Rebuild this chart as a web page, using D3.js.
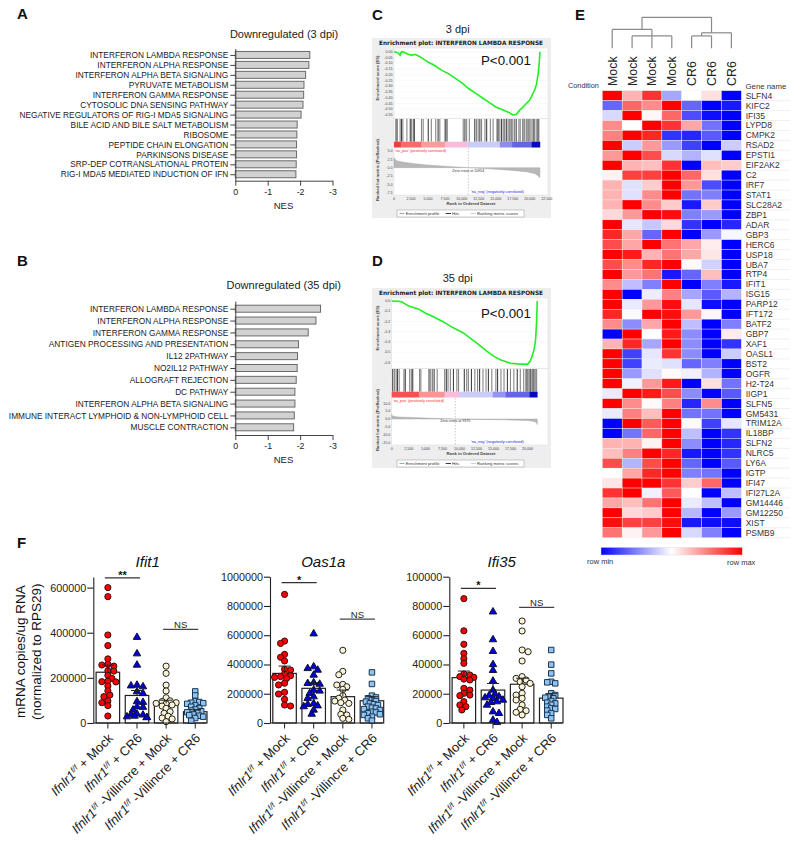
<!DOCTYPE html>
<html><head><meta charset="utf-8">
<script src="https://cdn.jsdelivr.net/npm/d3@7"></script>
<style>
html,body{margin:0;padding:0;background:#fff}
svg{display:block}
text{font-family:"Liberation Sans",Arial,sans-serif;fill:#222}
</style></head><body><div id="c"></div>
<script>
// ---------- Panels A, B ----------
const pathwaysA=["INTERFERON LAMBDA RESPONSE","INTERFERON ALPHA RESPONSE","INTERFERON ALPHA BETA SIGNALING","PYRUVATE METABOLISM","INTERFERON GAMMA RESPONSE","CYTOSOLIC DNA SENSING PATHWAY","NEGATIVE REGULATORS OF RIG-I MDA5 SIGNALING","BILE ACID AND BILE SALT METABOLISM","RIBOSOME","PEPTIDE CHAIN ELONGATION","PARKINSONS DISEASE","SRP-DEP COTRANSLATIONAL PROTEIN","RIG-I MDA5 MEDIATED INDUCTION OF IFN"];
const nesA=[-2.30,-2.27,-2.17,-2.12,-2.11,-2.09,-2.03,-1.91,-1.90,-1.89,-1.89,-1.88,-1.87];
const pathwaysB=["INTERFERON LAMBDA RESPONSE","INTERFERON ALPHA RESPONSE","INTERFERON GAMMA RESPONSE","ANTIGEN PROCESSING AND PRESENTATION","IL12 2PATHWAY","NO2IL12 PATHWAY","ALLOGRAFT REJECTION","DC PATHWAY","INTERFERON ALPHA BETA SIGNALING","IMMUNE INTERACT LYMPHOID & NON-LYMPHOID CELL","MUSCLE CONTRACTION"];
const nesB=[-2.63,-2.49,-2.25,-1.95,-1.92,-1.91,-1.88,-1.84,-1.84,-1.82,-1.80];
const nesTicks=[0,-1,-2,-3];

// ---------- Panels C, D ----------
const esRankC=[0,300,600,900,1100,1500,2000,2500,3200,4000,5000,6000,7000,8000,9000,10000,11000,12000,13000,14000,15000,16000,17000,17500,18000,18500,19000,20000,20750,21000,21250,21400,21500];
const esValC=[0,-0.005,-0.01,-0.03,0,-0.005,-0.02,-0.03,-0.025,-0.05,-0.09,-0.12,-0.16,-0.19,-0.23,-0.27,-0.32,-0.36,-0.40,-0.44,-0.48,-0.505,-0.53,-0.55,-0.545,-0.51,-0.48,-0.42,-0.33,-0.28,-0.19,-0.1,0];
const esRankD=[0,1000,1500,2500,4000,5000,6000,7500,9000,10500,12500,14000,15000,16000,17500,18500,20000,20400,20700,21000,21200,21350,21450];
const esValD=[0,-0.002,-0.01,-0.05,-0.08,-0.12,-0.15,-0.2,-0.26,-0.31,-0.41,-0.49,-0.54,-0.575,-0.61,-0.615,-0.62,-0.59,-0.54,-0.47,-0.38,-0.2,0];
const hitsC=[300,500,900,1100,1300,1900,2400,2600,2850,3000,4050,4300,5050,5500,6150,6500,6750,7500,7650,7850,10200,10450,10700,11100,11900,12150,12400,12650,12900,13400,13650,14200,14600,15200,15400,15600,15850,16100,16300,16550,16800,17000,17250,17500,17750,18000,18400,18600,19000,19250,19500,19750,20000,20200,20500,20700,20950,21200,21350];
const hitsD=[150,400,650,850,1100,1800,2000,2650,2900,3100,4100,4300,5500,5750,6000,6250,6700,7800,8050,8300,8650,9100,9600,9850,10700,11050,11300,11750,12250,12650,12950,13450,13900,14250,14750,15350,15600,16100,16550,17050,17500,18000,18500,18950,19450,19800,20000,20200,20400,20550,20750,20950,21150,21350];
const bandEdgesC=[0,1000,4050,7500,10800,15600,17400,20300,21500];
const bandColorsC=["#f43a3a","#f76a6a","#fb9c9c","#fbbcdc","#ccccf8","#8c8cee","#6464e6","#0808c0"];
const bandEdgesD=[0,4000,7800,10000,14900,16800,20300,21450];
const bandColorsD=["#f85050","#fb9494","#fbbcdc","#ccccf8","#9494f4","#6464e6","#0808c0"];
const metricRankC=[0,100,500,1500,3000,5000,7500,10954,14000,17000,19500,20800,21300,21500];
const metricValC=[3,2.6,2.0,1.6,1.2,0.8,0.45,0,-0.35,-0.75,-1.2,-1.8,-2.6,-3];
const metricRankD=[0,100,1000,3000,6000,9370,13000,17000,20000,21000,21300,21450];
const metricValD=[3,2,1.3,1.0,0.5,0,-0.25,-0.5,-0.9,-1.5,-2.2,-3.5];
const rankTicksC=[0,2500,5000,7500,10000,12500,15000,17500,20000,22500];
const rankTicksD=[0,2500,5000,7500,10000,12500,15000,17500,20000];
const esTicksC=[0,-.05,-.1,-.15,-.2,-.25,-.3,-.35,-.4,-.45,-.5,-.55];
const esTicksD=[0,-.1,-.2,-.3,-.4,-.5,-.6];
const metricTicksC=[5,2.5,0,-2.5,-5,-7.5];
const metricTicksD=[10,5,0,-5,-10,-15];

// ---------- Panel E ----------
const genes=["SLFN4","KIFC2","IFI35","LYPD8","CMPK2","RSAD2","EPSTI1","EIF2AK2","C2","IRF7","STAT1","SLC28A2","ZBP1","ADAR","GBP3","HERC6","USP18","UBA7","RTP4","IFIT1","ISG15","PARP12","IFT172","BATF2","GBP7","XAF1","OASL1","BST2","OGFR","H2-T24","IIGP1","SLFN5","GM5431","TRIM12A","IL18BP","SLFN2","NLRC5","LY6A","IGTP","IFI47","IFI27L2A","GM14446","GM12250","XIST","PSMB9"];
const conditions=["Mock","Mock","Mock","Mock","CR6","CR6","CR6"];
const matrix=[
[1,.3,.8,-.35,0,.12,-1],[-.6,.6,.45,1,-.6,-1,-.9],[-.15,1,.03,.6,-.7,-.95,-1],[.45,0,1,.8,.35,-.55,-1],[.5,1,.85,-.8,-.85,-.65,-1],
[1,-.2,.4,-.4,-.75,-1,-.2],[.4,1,.7,-.15,-.3,-.12,-1],[1,.3,.25,.8,-1,.25,.2],[.05,.75,.75,1,.6,.12,-1],[.3,-.12,.2,1,.4,-.7,-1],
[.3,-.12,.45,1,-.55,-.5,-1],[.3,1,.45,.2,-.9,.2,-1],[.15,.4,1,.95,-.5,-.4,-1],[1,-.1,-.22,.15,-.8,-1,-.85],[.85,.35,-.6,1,-1,-.4,-.03],
[.7,.35,1,.55,.35,.07,-1],[1,.9,.3,.55,.35,.1,-1],[.7,.45,.85,1,.02,-.18,-1],[1,.4,.55,-.9,-.6,.25,-1],[.45,-.25,-.5,1,-1,-.5,-.9],
[1,-1,-.07,.5,-.35,-.65,-.3],[1,-.08,.4,.95,-.1,-.95,-1],[.85,-.02,1,.95,.4,.03,-1],[.45,-.45,.35,1,-.25,-1,-.5],[-1,1,0,.9,-.45,-1,.08],
[.3,.85,-.35,1,-.45,-1,-.8],[1,-.75,-.1,.8,-.45,-1,-.2],[1,-.75,-.08,-.12,-.6,-.5,-1],[1,-.4,-.12,.02,-.06,-.3,-1],[1,-.05,.4,.9,-1,.12,-.55],
[-.08,1,.9,.7,-.45,-1,-.65],[1,.45,.02,.5,-.85,.45,-1],[-.08,.5,.25,1,-.55,-.55,-1],[-1,1,.65,1,.02,-.75,-.1],[-1,-.55,.6,1,-.25,-1,-.8],
[.3,.3,.05,1,-.45,-1,-.85],[.25,.5,1,.85,-.9,-1,-.8],[.7,-.3,.7,1,-.6,-1,-.65],[0,.35,.85,1,-.5,-.55,-1],[.1,1,1,.8,.2,.6,-1],
[.8,1,-.06,.65,0,-1,-.25],[.35,.25,.55,1,-.08,-.25,-1],[1,.15,.2,1,-.28,-1,-.4],[.95,.75,.75,.95,-.9,-.95,-.95],[.55,.05,.4,1,-.15,-.5,-1]];
// column dendrogram: merge distance per node, leaves are column indices
const dendrogram={d:1,children:[
 {d:.61,children:[{col:0},{d:.4,children:[{col:1},{col:2},{col:3}]}]},
 {d:.5,children:[{d:.4,children:[{col:4},{col:5}]},{col:6}]}
]};

// ---------- Panel F ----------
const fGroups=["Mock","CR6"];
const fGenotypes=["flox","villin"];
const geneNames=["Ifit1","Oas1a","Ifi35"];
const ifit1Means=[225000,122000,87000,50000];
const ifit1Sem=[32000,22000,14000,9000];
const ifit1G1=[600000,560000,390000,343000,284000,260000,257000,252000,232000,230000,211000,198000,185000,183000,182000,164000,143000,124000,117000,98000,90000,77000,31000];
const ifit1G2=[380000,307000,257000,168000,165000,161000,139000,131000,95000,92000,72000,70000,58000,40000,38000,36000,31000,28000,25000,24000];
const ifit1G3=[252000,220000,168000,142000,112000,98000,95000,90000,87000,85000,80000,75000,65000,50000,43000,30000,22000,18000,6000];
const ifit1G4=[140000,122000,97000,93000,90000,88000,85000,78000,72000,66000,60000,55000,52000,48000,45000,38000,35000,32000,28000,22000,10000];
const oas1aMeans=[339000,237000,180000,152000];
const oas1aSem=[50000,39000,45000,28000];
const oas1aG1=[879000,560000,544000,469000,449000,424000,367000,362000,335000,323000,317000,312000,305000,272000,260000,210000,198000,162000,123000,116000];
const oas1aG2=[610000,385000,373000,362000,328000,276000,271000,266000,225000,219000,203000,180000,169000,134000,128000,118000,112000,89000,61000];
const oas1aG3=[497000,353000,330000,264000,260000,248000,230000,187000,169000,157000,150000,139000,134000,89000,59000,55000,32000,25000];
const oas1aG4=[346000,267000,187000,175000,169000,157000,150000,146000,134000,128000,123000,112000,105000,100000,95000,89000,77000,72000,66000,60000,55000,43000,32000,16000];
const ifi35Means=[31000,22500,26500,17000];
const ifi35Sem=[4500,4500,4100,3000];
const ifi35G1=[85000,63000,53800,47600,44000,40800,33500,32800,31700,31200,30000,29400,23700,22500,20300,19100,18700,14600,12300,11200,8900];
const ifi35G2=[76000,57000,49000,40000,36000,28700,22500,19800,18700,18000,17300,16900,15700,14600,14100,12300,7700,6600,2000,500];
const ifi35G3=[69700,62900,49900,48700,42400,31700,30500,29400,28200,27100,24800,20300,19100,16900,15700,12300,9300,8400,7300,5500];
const ifi35G4=[49900,39900,33900,28200,27800,27100,20300,19100,18000,17300,16900,15000,13900,13400,12500,11200,10000,9600,8500,6600,5500,3200];
const ifit1Ticks=[0,200000,400000,600000];
const bigTicks=[0,200000,400000,600000,800000,1000000];
const ifi35Ticks=[0,20000,40000,60000,80000,100000];

const svg=d3.select("#c").append("svg").attr("width",800).attr("height",844).attr("viewBox","0 0 800 844");
const txt=(g,x,y,s,size,o={})=>{const t=g.append("text").attr("x",x).attr("y",y).attr("font-size",size).attr("text-anchor",o.anchor||"start").text(s);
  if(o.bold)t.attr("font-weight","bold");if(o.italic)t.attr("font-style","italic");if(o.fill)t.style("fill",o.fill);
  if(o.rotate!=null)t.attr("transform",`rotate(${o.rotate} ${x} ${y})`);if(o.family)t.style("font-family",o.family);return t;};

[["A",17,19],["B",17,266],["C",372,20],["D",372,266],["E",575,20],["F",17,548]].forEach(([s,x,y])=>txt(svg,x,y,s,15,{bold:true,fill:"#111"}));

// ---------- NES bars ----------
function nesChart(names,vals,title,tx,ty,top,bottom,xlabelY){
  const g=svg.append("g");
  const x=d3.scaleLinear().domain([0,-3]).range([235.3,332.5]);
  const y=d3.scalePoint().domain(names).range([top,bottom]).padding(.65);
  const h=7;
  g.selectAll("rect").data(names).join("rect")
    .attr("x",x(0)).attr("y",d=>y(d)-h/2).attr("height",h)
    .attr("width",(d,i)=>x(vals[i])-x(0)).attr("fill","#d2d2d2").attr("stroke","#6a6a6a").attr("stroke-width",1);
  const ay=g.append("g").attr("transform",`translate(${x(0)},0)`).call(d3.axisLeft(y).tickSize(5).tickPadding(2).tickSizeOuter(0));
  ay.selectAll("text").attr("font-size",8.3).style("font-family",'"Liberation Sans"');
  const ax=g.append("g").attr("transform",`translate(0,${bottom})`).call(d3.axisBottom(x).tickValues(nesTicks).tickFormat(d=>d===0?"0":d3.format("d")(d).replace("\u2212","-")).tickSize(5).tickPadding(3).tickSizeOuter(0));
  ax.selectAll("text").attr("font-size",8.8).style("font-family",'"Liberation Sans"');
  g.selectAll(".domain,.tick line").attr("stroke","#444");
  txt(g,tx,ty,title,11,{anchor:"middle"});
  txt(g,283.5,xlabelY,"NES",9.5,{anchor:"middle"});
}
nesChart(pathwaysA,nesA,"Downregulated (3 dpi)",284,38,48.5,180.7,208.5);
nesChart(pathwaysB,nesB,"Downregulated (35 dpi)",283.7,289,301,435,463);

// ---------- GSEA ----------
function gsea(c){
  const g=svg.append("g").attr("transform",`translate(0,${c.dy})`);
  txt(g,457.7,c.titleY,c.title,11,{anchor:"middle"});
  g.append("rect").attr("x",372).attr("y",38).attr("width",179).attr("height",180).attr("fill","#eeeeee");
  const head=txt(g,461,45,"Enrichment plot: INTERFERON LAMBDA RESPONSE",6,{anchor:"middle",bold:true,family:'"DejaVu Sans"'});
  head.attr("textLength",164).attr("lengthAdjust","spacingAndGlyphs");
  const x=d3.scaleLinear().domain([0,22500]).range([c.x0,c.x0+152.7]);
  const R=548;
  g.append("rect").attr("x",c.x0).attr("y",48).attr("width",R-c.x0).attr("height",147).attr("fill","#fff").attr("stroke","#ddd").attr("stroke-width",.5);
  const yE=d3.scaleLinear().domain(c.esDomain).range(c.esRange);
  g.append("g").selectAll("line").data(c.esTicks).join("line").attr("x1",c.x0).attr("x2",R).attr("y1",d=>yE(d)).attr("y2",d=>yE(d)).attr("stroke","#f2f2f2").attr("stroke-width",.5);
  g.append("path").datum(c.esRank.map((r,i)=>[r,c.esVal[i]])).attr("fill","none").attr("stroke","#22ee22").attr("stroke-width",1.6)
    .attr("d",d3.line().x(d=>x(d[0])).y(d=>yE(d[1])));
  txt(g,481,c.pY,"P<0.001",13.3,{fill:"#111"});
  g.append("g").selectAll("line").data(c.hits).join("line").attr("x1",d=>x(d)).attr("x2",d=>x(d)).attr("y1",119).attr("y2",141.7)
    .attr("stroke","#222").attr("stroke-width",1.1).attr("stroke-opacity",(d,i)=>i%3===0?.85:.55);
  g.append("line").attr("x1",c.x0).attr("x2",R).attr("y1",118.5).attr("y2",118.5).attr("stroke","#ccc").attr("stroke-width",.5);
  g.append("g").selectAll("rect").data(c.bandColors).join("rect").attr("x",(d,i)=>x(c.bandEdges[i])).attr("width",(d,i)=>x(c.bandEdges[i+1])-x(c.bandEdges[i])+.3)
    .attr("y",141.7).attr("height",5.8).attr("fill",d=>d);
  const yM=d3.scaleLinear().domain(c.mDomain).range(c.mRange);
  g.append("path").datum(c.mRank.map((r,i)=>[r,c.mVal[i]])).attr("fill","#b8b8b8").attr("stroke","#a0a0a0").attr("stroke-width",.4)
    .attr("d",d3.area().x(d=>x(d[0])).y0(yM(0)).y1(d=>yM(d[1])));
  g.append("line").attr("x1",x(c.cross)).attr("x2",x(c.cross)).attr("y1",148).attr("y2",195).attr("stroke","#999").attr("stroke-width",.5).attr("stroke-dasharray","1.5,1.5");
  const fmt=d3.format(c.esFmt);
  const tick=(v,px,fmtv)=>txt(g,c.x0-1.5,px+1.2,fmtv(v),3.6,{anchor:"end",fill:"#444"});
  c.esTicks.forEach(v=>tick(v,yE(v),d=>fmt(d).replace("\u2212","-")));
  c.mTicks.forEach(v=>tick(v,yM(v),d=>d3.format(".1f")(d).replace("\u2212","-")));
  c.rTicks.forEach(v=>txt(g,x(v),199.5,d3.format(",")(v),3.6,{anchor:"middle",fill:"#444"}));
  txt(g,471,204.5,"Rank in Ordered Dataset",4.2,{anchor:"middle",bold:true,fill:"#444"});
  txt(g,378.5,78,"Enrichment score (ES)",4.2,{anchor:"middle",rotate:-90,bold:true,fill:"#444"});
  txt(g,379,170,"Ranked list metric (PreRanked)",4.2,{anchor:"middle",rotate:-90,bold:true,fill:"#444"});
  txt(g,c.redX,151.5,"'na_pos' (positively correlated)",3.8,{fill:"#f03030"});
  txt(g,x(c.cross),172,"Zero cross at "+c.cross,3.6,{anchor:"middle",fill:"#333"});
  txt(g,471,193.2,"'na_neg' (negatively correlated)",3.8,{fill:"#2020e0"});
  g.append("rect").attr("x",397).attr("y",210).attr("width",127).attr("height",7).attr("fill","#fff").attr("stroke","#999").attr("stroke-width",.5);
  [[399.5,404.5,"#22ee22","Enrichment profile",405.7],[445.7,451,"#222","Hits",452],[470.7,476,"#ccc","Ranking metric scores",477]].forEach(([a,b,col,s,tx])=>{
    g.append("line").attr("x1",a).attr("x2",b).attr("y1",213.5).attr("y2",213.5).attr("stroke",col).attr("stroke-width",.9);
    txt(g,tx,215,s,4.2,{fill:"#333"});
  });
}
gsea({dy:0,title:"3 dpi",titleY:33.3,x0:394,esDomain:[0,-.55],esRange:[51.7,115],esRank:esRankC,esVal:esValC,esTicks:esTicksC,esFmt:".2f",pY:65,hits:hitsC,
  bandEdges:bandEdgesC,bandColors:bandColorsC,mRank:metricRankC,mVal:metricValC,mDomain:[5,-7.5],mRange:[151,192.7],mTicks:metricTicksC,rTicks:rankTicksC,cross:10954,redX:395});
gsea({dy:250,title:"35 dpi",titleY:32.3,x0:391.7,esDomain:[0,-.6],esRange:[51,112.3],esRank:esRankD,esVal:esValD,esTicks:esTicksD,esFmt:".1f",pY:67.7,hits:hitsD,
  bandEdges:bandEdgesD,bandColors:bandColorsD,mRank:metricRankD,mVal:metricValD,mDomain:[10,-15],mRange:[153.3,192.7],mTicks:metricTicksD,rTicks:rankTicksD,cross:9370,redX:393});

// ---------- Heatmap ----------
(function(){
  const g=svg.append("g");
  const x=d3.scaleBand().domain(d3.range(7)).range([602.3,741.3]);
  const y=d3.scaleBand().domain(genes).range([90.7,537.7]);
  const color=d3.scaleLinear().domain([-1,0,1]).range(["#0000ff","#ffffff","#ff0000"]);
  g.selectAll("g.r").data(matrix).join("g").attr("class","r").attr("transform",(d,i)=>`translate(0,${y(genes[i])})`)
    .selectAll("rect").data(d=>d).join("rect").attr("x",(d,i)=>x(i)).attr("width",x.bandwidth()).attr("height",y.bandwidth())
    .attr("fill",d=>color(d)).attr("stroke","#eeeeee").attr("stroke-width",.4);
  g.selectAll("line.u").data(genes).join("line").attr("class","u").attr("x1",745).attr("x2",790).attr("y1",d=>y(d)+y.bandwidth()).attr("y2",d=>y(d)+y.bandwidth()).attr("stroke","#eaeaea").attr("stroke-width",.7);
  genes.forEach(s=>txt(g,745.7,y(s)+y.bandwidth()/2+3,s,8.5,{fill:"#333"}));
  conditions.forEach((s,i)=>txt(g,x(i)+x.bandwidth()/2+4.5,86,s,12.4,{rotate:-90,fill:"#222"}));
  txt(g,568,87.5,"Condition",7.3,{fill:"#333"});
  txt(g,745.5,89,"Gene name",7.8,{fill:"#333"});
  const root=d3.hierarchy(dendrogram);
  const yD=d3.scaleLinear().domain([0,1]).range([48.3,17.3]);
  const xOf=n=>d3.mean(n.leaves(),l=>x(l.data.col)+x.bandwidth()/2);
  const lines=g.append("g").attr("stroke","#8a8a8a").attr("stroke-width",1.2).attr("fill","none");
  root.each(n=>{ if(!n.children)return;
    const yy=yD(n.data.d), xs=n.children.map(xOf);
    lines.append("line").attr("x1",d3.min(xs)).attr("x2",d3.max(xs)).attr("y1",yy).attr("y2",yy);
    n.children.forEach((ch,i)=>{lines.append("line").attr("x1",xs[i]).attr("x2",xs[i]).attr("y1",yy).attr("y2",ch.children?yD(ch.data.d):yD(0));});
  });
  const defs=svg.append("defs").append("linearGradient").attr("id","rb");
  [[0,"#0000ff"],[.5,"#ffffff"],[1,"#ff0000"]].forEach(([o,cc])=>defs.append("stop").attr("offset",o).attr("stop-color",cc));
  g.append("rect").attr("x",601).attr("y",547.3).attr("width",141.3).attr("height",7.7).attr("fill","url(#rb)").attr("stroke","#ddd").attr("stroke-width",.5);
  txt(g,587,564,"row min",7.5,{fill:"#333"});
  txt(g,727,565,"row max",7.5,{fill:"#333"});
})();

// ---------- Panel F ----------
function fChart(c){
  const g=svg.append("g");
  const Y0=723;
  const y=d3.scaleLinear().domain([0,c.top]).range([Y0,c.topPx]);
  const outer=d3.scaleBand().domain(fGenotypes).range([c.x0,c.x0+116.5]);
  const inner=d3.scaleBand().domain(fGroups).range([0,outer.bandwidth()]);
  const centers=[];
  fGenotypes.forEach(gt=>fGroups.forEach(gr=>centers.push(outer(gt)+inner(gr)+inner.bandwidth()/2)));
  const bw=23.5;
  c.means.forEach((m,i)=>{
    g.append("rect").attr("x",centers[i]-bw/2).attr("width",bw).attr("y",y(m)).attr("height",Y0-y(m)).attr("fill","#fff").attr("stroke","#222").attr("stroke-width",1.2);
  });
  const syms=[d3.symbolCircle,d3.symbolTriangle,d3.symbolCircle,d3.symbolSquare];
  const sizes=[30,24,30,30];
  const fills=["#ff0000","#0000d8","#fbf4d4","#8cc4f4"];
  const strokes=["#331111","#111133","#222222","#1c3550"];
  c.points.forEach((vals,i)=>{
    const placed=[];const r=i===3?3.4:4.4;
    vals.slice().sort((a,b)=>b-a).forEach((v,k)=>{
      const py=y(v);let chosen=0,found=false;const dir=k%2?1:-1;
      for(let s=0;s<=10&&!found;s+=2){for(const sg of [dir,-dir]){const dx=sg*s;
        if(placed.every(p=>Math.hypot(p[0]-dx,p[1]-py)>=r)){chosen=dx;found=true;break;}}}
      if(!found){chosen=dir*(k%5)*2.4;}
      placed.push([chosen,py]);
      g.append("path").attr("d",d3.symbol().type(syms[i]).size(sizes[i])()).attr("transform",`translate(${centers[i]+chosen},${py})`)
        .attr("fill",fills[i]).attr("stroke",strokes[i]).attr("stroke-width",1);
    });
  });
  c.means.forEach((m,i)=>{
    const s=c.sem[i];
    g.append("path").attr("fill","none").attr("stroke","#222").attr("stroke-width",1)
      .attr("d",`M${centers[i]},${y(m)}V${y(m+s)}M${centers[i]-6},${y(m+s)}H${centers[i]+6}`);
  });
  const ay=g.append("g").attr("transform",`translate(${c.x0},0)`).call(d3.axisLeft(y).tickValues(c.ticks).tickFormat(d3.format("d")).tickSize(6).tickPadding(1).tickSizeOuter(0));
  ay.selectAll("text").attr("font-size",10.8).style("font-family",'"Liberation Sans"');
  ay.selectAll(".domain,.tick line").attr("stroke","#222").attr("stroke-width",1.1);
  g.append("line").attr("x1",c.x0).attr("x2",c.x0+112.7).attr("y1",Y0).attr("y2",Y0).attr("stroke","#222").attr("stroke-width",1.1);
  centers.forEach((cx,i)=>{
    g.append("line").attr("x1",cx).attr("x2",cx).attr("y1",Y0).attr("y2",Y0+5.5).attr("stroke","#222");
    const t=g.append("text").attr("transform",`translate(${cx+6},${Y0+16}) rotate(-45)`).attr("text-anchor","end").attr("font-size",13);
    t.append("tspan").attr("font-style","italic").text("Ifnlr1");
    t.append("tspan").attr("font-style","italic").attr("font-size",8).attr("dy",-4.5).text("f/f");
    t.append("tspan").attr("dy",4.5).text((i>1?" -Villincre":"")+" + "+fGroups[i%2]);
  });
  txt(g,c.titleX,567,c.name,15,{anchor:"middle",italic:true,fill:"#111"});
  [[0,1,c.sig1,c.sigText],[2,3,c.sig2,"NS"]].forEach(([a,b,v,s],k)=>{
    g.append("line").attr("x1",centers[a]-3).attr("x2",centers[b]+3).attr("y1",y(v)).attr("y2",y(v)).attr("stroke",k?"#444":"#333").attr("stroke-width",1.2);
    const mid=(centers[a]+centers[b])/2;
    if(k) txt(g,mid,y(v)-1.5,s,9.5,{anchor:"middle",fill:"#222"});
    else txt(g,mid,y(v)+1,s,11,{anchor:"middle",bold:true,fill:"#111"});
  });
}
fChart({name:geneNames[0],x0:93.3,top:647000,topPx:577,ticks:ifit1Ticks,means:ifit1Means,sem:ifit1Sem,points:[ifit1G1,ifit1G2,ifit1G3,ifit1G4],titleX:147.7,sig1:643000,sig2:415000,sigText:"**"});
fChart({name:geneNames[1],x0:270,top:1000000,topPx:576.7,ticks:bigTicks,means:oas1aMeans,sem:oas1aSem,points:[oas1aG1,oas1aG2,oas1aG3,oas1aG4],titleX:323.3,sig1:959000,sig2:710000,sigText:"*"});
fChart({name:geneNames[2],x0:449.3,top:100000,topPx:576.7,ticks:ifi35Ticks,means:ifi35Means,sem:ifi35Sem,points:[ifi35G1,ifi35G2,ifi35G3,ifi35G4],titleX:501.7,sig1:92000,sig2:79000,sigText:"*"});
txt(svg,25,651.7,"mRNA copies/ug RNA",13.5,{anchor:"middle",rotate:-90,fill:"#111"});
txt(svg,41,651.7,"(normalized to RPS29)",13.5,{anchor:"middle",rotate:-90,fill:"#111"});
</script></body></html>
